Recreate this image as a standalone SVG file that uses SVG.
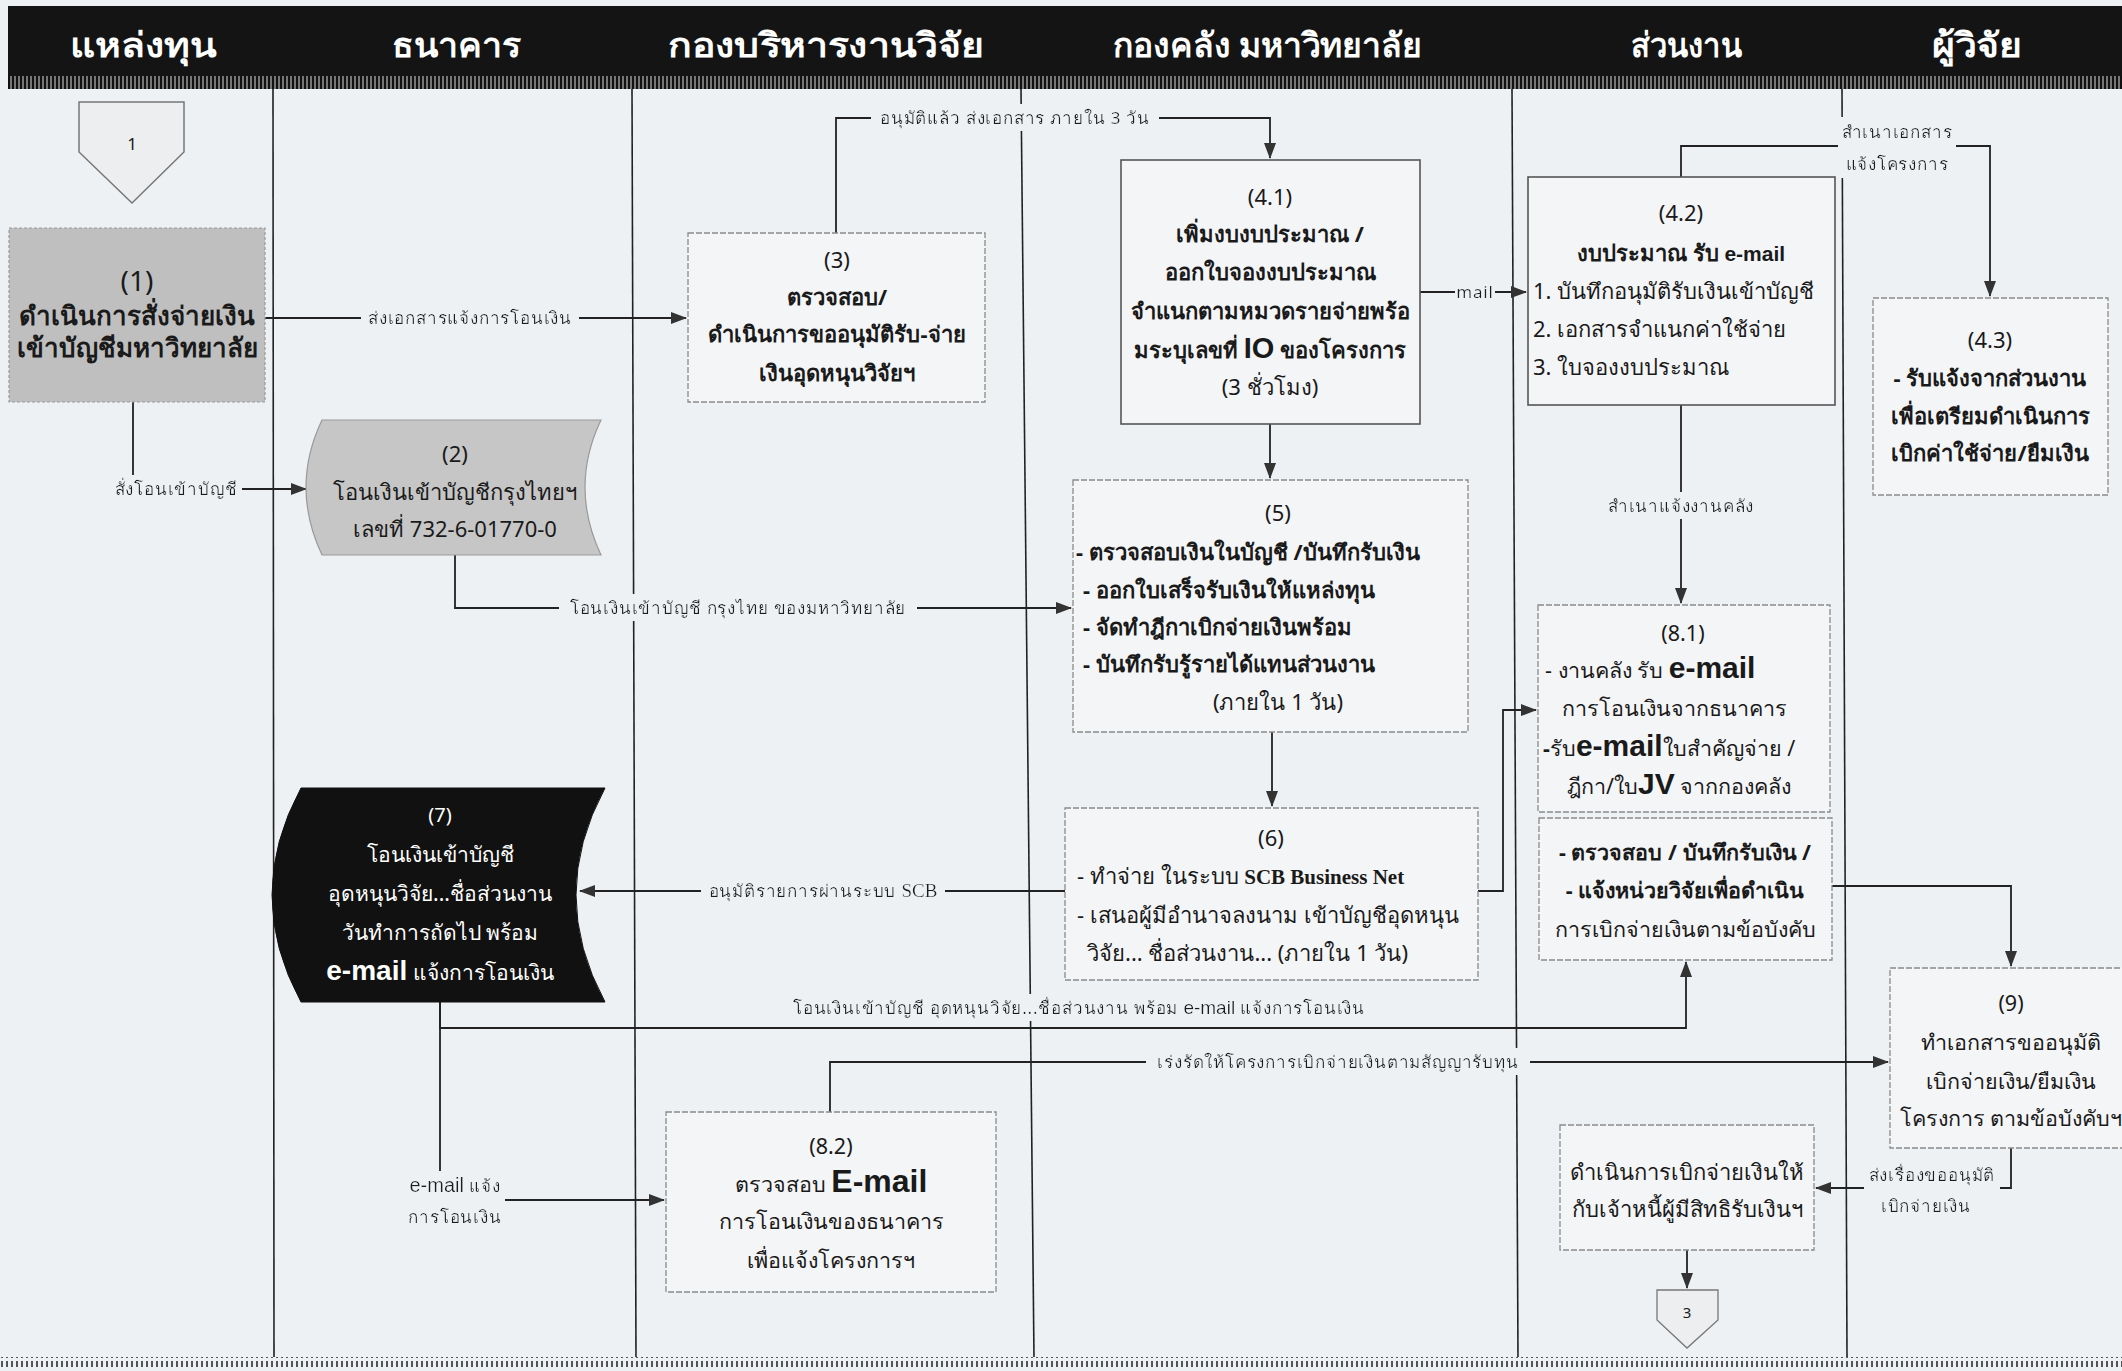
<svg xmlns="http://www.w3.org/2000/svg" width="2122" height="1371" viewBox="0 0 2122 1371">
<defs>
<style>
.t{font-family:'Noto Sans','Liberation Sans',sans-serif;fill:#1a1a1a}
.c{text-anchor:middle}
.b{font-weight:bold}
.hd{font-family:'Noto Sans','Liberation Sans',sans-serif;font-weight:bold;font-size:34px;fill:#fff;text-anchor:middle}
.lane{stroke:#222;stroke-width:1.6}
.box{fill:#f4f5f7;stroke:#8a8a8a;stroke-width:1.3;stroke-dasharray:6 2}
.boxs{fill:#f4f5f7;stroke:#555;stroke-width:1.6}
.lbl{font-family:'Noto Sans','Liberation Sans',sans-serif;font-size:17px;letter-spacing:0.8px;fill:#1a1a1a;text-anchor:middle}
.en{font-family:'Liberation Sans',sans-serif;font-weight:bold}
.sf{font-family:'Liberation Serif','Noto Sans',serif}
#connectors path{fill:none;stroke:#222;stroke-width:1.8}
</style>
<marker id="ah" viewBox="0 0 16 12" refX="15" refY="6" markerWidth="16" markerHeight="12" markerUnits="userSpaceOnUse" orient="auto">
<path d="M0,0 L16,6 L0,12 Z" fill="#333"/>
</marker>
<filter id="bg" x="-0.03" y="-0.05" width="1.06" height="1.1">
<feFlood flood-color="#eef1f4"/>
<feComposite in="SourceGraphic" operator="over"/>
</filter>
<pattern id="hatch" width="4" height="13" patternUnits="userSpaceOnUse">
<rect width="4" height="13" fill="#777"/>
<rect width="2" height="13" fill="#111"/>
</pattern>
<pattern id="hatch2" width="5" height="10" patternUnits="userSpaceOnUse">
<rect width="5" height="10" fill="#eef1f4"/>
<rect x="1" y="1" width="2" height="7" fill="#555"/>
</pattern>
</defs>
<rect width="2122" height="1371" fill="#eef1f4"/>

<!-- header -->
<g id="header">
<rect x="8" y="6" width="2114" height="72" fill="#141414"/>
<rect x="8" y="76" width="2114" height="13" fill="url(#hatch)"/>
<text class="hd" x="143" y="57" textLength="146" lengthAdjust="spacingAndGlyphs">แหล่งทุน</text>
<text class="hd" x="456" y="57" textLength="129" lengthAdjust="spacingAndGlyphs">ธนาคาร</text>
<text class="hd" x="826" y="57" textLength="317" lengthAdjust="spacingAndGlyphs">กองบริหารงานวิจัย</text>
<text class="hd" x="1267" y="57" textLength="309" lengthAdjust="spacingAndGlyphs">กองคลัง มหาวิทยาลัย</text>
<text class="hd" x="1686" y="57" textLength="111" lengthAdjust="spacingAndGlyphs">ส่วนงาน</text>
<text class="hd" x="1977" y="57" textLength="91" lengthAdjust="spacingAndGlyphs">ผู้วิจัย</text>
</g>

<!-- lanes -->
<g id="lanes">
<line class="lane" x1="273" y1="89" x2="274" y2="1358"/>
<line class="lane" x1="632" y1="89" x2="636" y2="1358"/>
<line class="lane" x1="1021" y1="89" x2="1034" y2="1358"/>
<line class="lane" x1="1512" y1="89" x2="1518" y2="1358"/>
<line class="lane" x1="1842" y1="89" x2="1847" y2="1358"/>
<rect x="0" y="1357" width="2122" height="10" fill="url(#hatch2)"/>
</g>

<!-- connectors -->
<g id="connectors">
<path d="M265,318 H686" marker-end="url(#ah)"/>
<path d="M133,402 V489 H306" marker-end="url(#ah)"/>
<path d="M455,555 V608 H1071" marker-end="url(#ah)"/>
<path d="M836,233 V118 H1270 V158" marker-end="url(#ah)"/>
<path d="M1420,292 H1526" marker-end="url(#ah)"/>
<path d="M1270,424 V478" marker-end="url(#ah)"/>
<path d="M1681,177 V146 H1990 V296" marker-end="url(#ah)"/>
<path d="M1681,405 V603" marker-end="url(#ah)"/>
<path d="M1272,732 V806" marker-end="url(#ah)"/>
<path d="M1065,891 H580" marker-end="url(#ah)"/>
<path d="M1478,891 H1503 V710 H1536" marker-end="url(#ah)"/>
<path d="M440,1002 V1028 H1686 V962" marker-end="url(#ah)"/>
<path d="M440,1002 V1200 H664" marker-end="url(#ah)"/>
<path d="M830,1112 V1062 H1888" marker-end="url(#ah)"/>
<path d="M1832,886 H2011 V966" marker-end="url(#ah)"/>
<path d="M2011,1148 V1188 H1816" marker-end="url(#ah)"/>
<path d="M1687,1250 V1288" marker-end="url(#ah)"/>
<text class="lbl" x="470" y="324" filter="url(#bg)">ส่งเอกสารแจ้งการโอนเงิน</text>
<text class="lbl" x="176" y="495" filter="url(#bg)">สั่งโอนเข้าบัญชี</text>
<text class="lbl" x="738" y="614" filter="url(#bg)">โอนเงินเข้าบัญชี กรุงไทย ของมหาวิทยาลัย</text>
<text class="lbl" x="1015" y="124" filter="url(#bg)">อนุมัติแล้ว ส่งเอกสาร ภายใน 3 วัน</text>
<text class="lbl" x="1475" y="298" filter="url(#bg)">mail</text>
<text class="lbl" filter="url(#bg)"><tspan x="1897" y="138">สำเนาเอกสาร</tspan><tspan x="1897" y="170">แจ้งโครงการ</tspan></text>
<text class="lbl" x="1681" y="512" filter="url(#bg)">สำเนาแจ้งงานคลัง</text>
<text class="lbl" x="823" y="897" filter="url(#bg)">อนุมัติรายการผ่านระบบ <tspan class="sf" font-size="19" letter-spacing="0">SCB</tspan></text>
<text class="lbl" x="1079" y="1014" filter="url(#bg)">โอนเงินเข้าบัญชี อุดหนุนวิจัย...ชื่อส่วนงาน  พร้อม <tspan font-family="Liberation Sans" font-size="19" letter-spacing="0">e-mail</tspan> แจ้งการโอนเงิน</text>
<text class="lbl" filter="url(#bg)"><tspan x="455" y="1192"><tspan font-family="Liberation Sans" font-size="20" letter-spacing="0">e-mail</tspan> แจ้ง</tspan><tspan x="455" y="1223">การโอนเงิน</tspan></text>
<text class="lbl" x="1338" y="1068" filter="url(#bg)">เร่งรัดให้โครงการเบิกจ่ายเงินตามสัญญารับทุน</text>
<text class="lbl" filter="url(#bg)"><tspan x="1932" y="1181">ส่งเรื่องขออนุมัติ</tspan><tspan x="1926" y="1212">เบิกจ่ายเงิน</tspan></text>
</g>

<!-- nodes -->
<g id="node-c1">
<polygon points="79,102 184,102 184,152 132,203 79,152" fill="#eceef0" stroke="#777" stroke-width="1.5"/>
<text class="t c" x="132" y="150" font-size="17">1</text>
</g>
<g id="node-1">
<rect x="9" y="228" width="256" height="174" fill="#bfbfbf" stroke="#999" stroke-width="1.2" stroke-dasharray="3 2"/>
<text class="t c" x="137" y="291" font-size="28">(1)</text>
<text class="t c b" x="137" y="325" font-size="26">ดำเนินการสั่งจ่ายเงิน</text>
<text class="t c b" x="137" y="357" font-size="26">เข้าบัญชีมหาวิทยาลัย</text>
</g>
<g id="node-2">
<path d="M322,420 L601,420 Q569,487 601,555 L322,555 Q290,487 322,420 Z" fill="#c6c6c6" stroke="#999" stroke-width="1.2"/>
<text class="t c" x="455" y="462" font-size="22">(2)</text>
<text class="t c" x="455" y="500" font-size="22">โอนเงินเข้าบัญชีกรุงไทยฯ</text>
<text class="t c" x="455" y="537" font-size="22">เลขที่ 732-6-01770-0</text>
</g>
<g id="node-3">
<rect class="box" x="688" y="233" width="297" height="169"/>
<text class="t c" x="837" y="268" font-size="22">(3)</text>
<text class="t c b" x="837" y="305" font-size="22">ตรวจสอบ/</text>
<text class="t c b" x="837" y="342" font-size="22">ดำเนินการขออนุมัติรับ-จ่าย</text>
<text class="t c b" x="837" y="381" font-size="22">เงินอุดหนุนวิจัยฯ</text>
</g>
<g id="node-4-1">
<rect class="boxs" x="1121" y="160" width="299" height="264"/>
<text class="t c" x="1270" y="205" font-size="22">(4.1)</text>
<text class="t c b" x="1270" y="242" font-size="22">เพิ่มงบงบประมาณ /</text>
<text class="t c b" x="1270" y="280" font-size="22">ออกใบจองงบประมาณ</text>
<text class="t c b" x="1270" y="319" font-size="22">จำแนกตามหมวดรายจ่ายพร้อ</text>
<text class="t c b" x="1270" y="358" font-size="22">มระบุเลขที่ <tspan class="en" font-size="29">IO</tspan> ของโครงการ</text>
<text class="t c" x="1270" y="395" font-size="22">(3 ชั่วโมง)</text>
</g>
<g id="node-4-2">
<rect class="boxs" x="1528" y="177" width="307" height="228"/>
<text class="t c" x="1681" y="221" font-size="22">(4.2)</text>
<text class="t c b" x="1681" y="261" font-size="22">งบประมาณ  รับ <tspan font-family="Liberation Sans" font-size="21">e-mail</tspan></text>
<text class="t" x="1533" y="299" font-size="22">1. บันทึกอนุมัติรับเงินเข้าบัญชี</text>
<text class="t" x="1533" y="337" font-size="22">2. เอกสารจำแนกค่าใช้จ่าย</text>
<text class="t" x="1533" y="375" font-size="22">3. ใบจองงบประมาณ</text>
</g>
<g id="node-4-3">
<rect class="box" x="1873" y="298" width="235" height="197"/>
<text class="t c" x="1990" y="348" font-size="22">(4.3)</text>
<text class="t c b" x="1990" y="386" font-size="22">- รับแจ้งจากส่วนงาน</text>
<text class="t c b" x="1990" y="424" font-size="22">เพื่อเตรียมดำเนินการ</text>
<text class="t c b" x="1990" y="461" font-size="22">เบิกค่าใช้จ่าย/ยืมเงิน</text>
</g>
<g id="node-5">
<rect class="box" x="1073" y="480" width="395" height="252"/>
<text class="t c" x="1278" y="521" font-size="22">(5)</text>
<text class="t b" x="1076" y="560" font-size="22">- ตรวจสอบเงินในบัญชี /บันทึกรับเงิน</text>
<text class="t b" x="1083" y="598" font-size="22">- ออกใบเสร็จรับเงินให้แหล่งทุน</text>
<text class="t b" x="1083" y="635" font-size="22">- จัดทำฎีกาเบิกจ่ายเงินพร้อม</text>
<text class="t b" x="1083" y="672" font-size="22">- บันทึกรับรู้รายได้แทนส่วนงาน</text>
<text class="t c" x="1278" y="710" font-size="22">(ภายใน 1 วัน)</text>
</g>
<g id="node-6">
<rect class="box" x="1065" y="808" width="413" height="172"/>
<text class="t c" x="1271" y="846" font-size="22">(6)</text>
<text class="t" x="1077" y="884" font-size="22">- ทำจ่าย ในระบบ <tspan class="sf b" font-size="21">SCB Business Net</tspan></text>
<text class="t" x="1077" y="923" font-size="22">- เสนอผู้มีอำนาจลงนาม เข้าบัญชีอุดหนุน</text>
<text class="t" x="1087" y="961" font-size="22">วิจัย...  ชื่อส่วนงาน... (ภายใน 1 วัน)</text>
</g>
<g id="node-7">
<path d="M301,788 L605,788 Q547,895 605,1002 L301,1002 Q243,895 301,788 Z" fill="#111" stroke="#111" stroke-width="1"/>
<text class="t c" x="440" y="822" font-size="20" style="fill:#fff">(7)</text>
<text class="t c" x="440" y="862" font-size="21" style="fill:#fff">โอนเงินเข้าบัญชี</text>
<text class="t c" x="440" y="901" font-size="21" style="fill:#fff">อุดหนุนวิจัย...ชื่อส่วนงาน</text>
<text class="t c" x="440" y="940" font-size="21" style="fill:#fff">วันทำการถัดไป  พร้อม</text>
<text class="t c" x="440" y="980" font-size="21" style="fill:#fff"><tspan class="en" font-size="28">e-mail</tspan> แจ้งการโอนเงิน</text>
</g>
<g id="node-8-1">
<rect class="box" x="1538" y="605" width="292" height="207"/>
<text class="t c" x="1683" y="641" font-size="21.5">(8.1)</text>
<text class="t" x="1545" y="678" font-size="21.5">- งานคลัง รับ <tspan class="en" font-size="30">e-mail</tspan></text>
<text class="t" x="1562" y="716" font-size="21.5">การโอนเงินจากธนาคาร</text>
<text class="t" x="1543" y="756" font-size="21.5"><tspan class="b">-</tspan>รับ<tspan class="en" font-size="30">e-mail</tspan>ใบสำคัญจ่าย /</text>
<text class="t" x="1567" y="794" font-size="21.5">ฎีกา/ใบ<tspan class="en" font-size="30">JV</tspan> จากกองคลัง</text>
</g>
<g id="node-8-1b">
<rect class="box" x="1539" y="818" width="293" height="142"/>
<text class="t c b" x="1685" y="860" font-size="21.5">- ตรวจสอบ / บันทึกรับเงิน /</text>
<text class="t c b" x="1685" y="898" font-size="21.5">- แจ้งหน่วยวิจัยเพื่อดำเนิน</text>
<text class="t c" x="1685" y="937" font-size="21.5">การเบิกจ่ายเงินตามข้อบังคับ</text>
</g>
<g id="node-8-2">
<rect class="box" x="666" y="1112" width="330" height="180"/>
<text class="t c" x="831" y="1154" font-size="21.5">(8.2)</text>
<text class="t c" x="831" y="1192" font-size="21.5">ตรวจสอบ <tspan class="en" font-size="32">E-mail</tspan></text>
<text class="t c" x="831" y="1229" font-size="21.5">การโอนเงินของธนาคาร</text>
<text class="t c" x="831" y="1268" font-size="21.5">เพื่อแจ้งโครงการฯ</text>
</g>
<g id="node-9">
<rect class="box" x="1890" y="968" width="240" height="180"/>
<text class="t c" x="2011" y="1011" font-size="21.5">(9)</text>
<text class="t c" x="2011" y="1050" font-size="21.5">ทำเอกสารขออนุมัติ</text>
<text class="t c" x="2011" y="1089" font-size="21.5">เบิกจ่ายเงิน/ยืมเงิน</text>
<text class="t c" x="2011" y="1126" font-size="21.5">โครงการ ตามข้อบังคับฯ</text>
</g>
<g id="node-10">
<rect class="box" x="1560" y="1125" width="254" height="125"/>
<text class="t c" x="1687" y="1180" font-size="22">ดำเนินการเบิกจ่ายเงินให้</text>
<text class="t c" x="1687" y="1217" font-size="22">กับเจ้าหนี้ผู้มีสิทธิรับเงินฯ</text>
</g>
<g id="node-c3">
<polygon points="1657,1290 1718,1290 1718,1320 1687,1348 1657,1320" fill="#eceef0" stroke="#777" stroke-width="1.3"/>
<text class="t c" x="1687" y="1318" font-size="15">3</text>
</g>
</svg>
